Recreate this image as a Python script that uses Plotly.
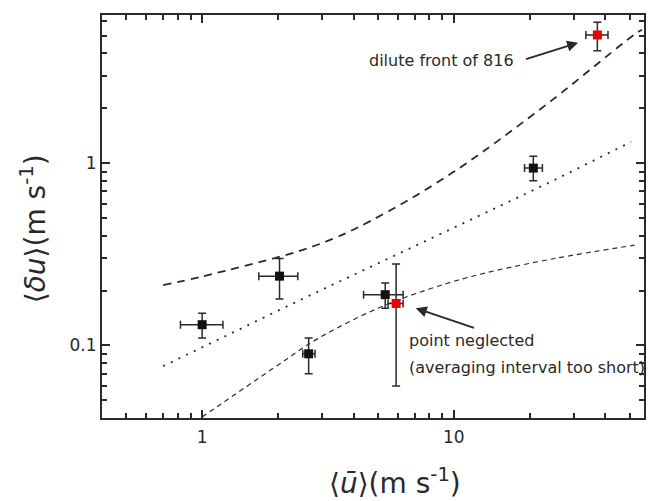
import numpy as np
import plotly.graph_objects as go

# --- measured points (black) ---
blk_x = [1.0, 2.03, 2.65, 5.34, 20.7]
blk_y = [0.13, 0.24, 0.09, 0.19, 0.94]
blk_xm = [0.18, 0.35, 0.14, 0.96, 1.6]
blk_xp = [0.21, 0.37, 0.16, 0.95, 1.8]
blk_ym = [0.02, 0.06, 0.02, 0.03, 0.14]
blk_yp = [0.02, 0.06, 0.02, 0.03, 0.15]

# --- special points (red) ---
red_x = [5.90, 37.2]
red_y = [0.17, 5.05]
red_xm = [0.42, 3.7]
red_xp = [0.39, 3.8]
red_ym = [0.11, 0.91]
red_yp = [0.11, 0.88]

# --- model curves ---
up_x = [0.70, 1.0, 2.4, 3.3, 4.17, 6.74, 9.85, 12.9, 24.5, 52.3, 56.0]
up_y = [0.214, 0.239, 0.328, 0.384, 0.445, 0.638, 0.885, 1.142, 2.21, 5.09, 5.4]

mid_x = [0.70, 2.44, 14.6, 25.2, 50.7]
mid_y = [0.077, 0.177, 0.566, 0.81, 1.31]

low_x = [1.0, 2.0, 2.88, 5.05, 8.0, 12.6, 25.2, 52.3]
low_y = [0.0405, 0.078, 0.109, 0.161, 0.204, 0.245, 0.30, 0.355]

x_major = [1, 10]
y_major = [0.1, 1]
x_minor = [0.5, 0.6, 0.7, 0.8, 0.9, 2, 3, 4, 5, 6, 7, 8, 9, 20, 30, 40, 50]
y_minor = [0.05, 0.06, 0.07, 0.08, 0.09, 0.2, 0.3, 0.4, 0.5, 0.6, 0.7, 0.8, 0.9, 2, 3, 4, 5, 6]

FONT = "DejaVu Sans"
INK = "#2a2a2a"

fig = go.Figure()

fig.add_trace(go.Scatter(x=up_x, y=up_y, mode="lines", line_shape="spline",
                         line=dict(color=INK, width=1.8, dash="8px,6px"),
                         hoverinfo="skip", showlegend=False))
fig.add_trace(go.Scatter(x=mid_x, y=mid_y, mode="lines",
                         line=dict(color=INK, width=1.8, dash="2px,6.5px"),
                         hoverinfo="skip", showlegend=False))
fig.add_trace(go.Scatter(x=low_x, y=low_y, mode="lines", line_shape="spline",
                         line=dict(color=INK, width=1.2, dash="5px,4px"),
                         hoverinfo="skip", showlegend=False))

def pts(x, y, xm, xp, ym, yp, color):
    return go.Scatter(
        x=x, y=y, mode="markers",
        marker=dict(symbol="square", size=9, color=color, line=dict(width=0)),
        error_x=dict(type="data", array=xp, arrayminus=xm, symmetric=False,
                     color=INK, thickness=1.5, width=4),
        error_y=dict(type="data", array=yp, arrayminus=ym, symmetric=False,
                     color=INK, thickness=1.5, width=4),
        showlegend=False)

fig.add_trace(pts(blk_x, blk_y, blk_xm, blk_xp, blk_ym, blk_yp, "#111111"))
fig.add_trace(pts(red_x, red_y, red_xm, red_xp, red_ym, red_yp, "#e60000"))

axis_common = dict(
    type="log", showline=True, linecolor=INK, linewidth=2, mirror="ticks",
    ticks="inside", ticklen=8, tickwidth=1.5, tickcolor=INK,
    showgrid=False, zeroline=False,
    tickfont=dict(family=FONT, size=17, color=INK),
)

fig.update_xaxes(**axis_common, range=[np.log10(0.40), np.log10(57)],
                 tickmode="array", tickvals=x_major, ticktext=["1", "10"],
                 ticklabelstandoff=3,
                 minor=dict(tickmode="array", tickvals=x_minor, ticks="inside",
                            ticklen=5, tickwidth=1.5, tickcolor=INK, showgrid=False))
fig.update_yaxes(**axis_common, range=[np.log10(0.04), np.log10(6.5)],
                 tickmode="array", tickvals=y_major, ticktext=["0.1", "1"],
                 minor=dict(tickmode="array", tickvals=y_minor, ticks="inside",
                            ticklen=5, tickwidth=1.5, tickcolor=INK, showgrid=False))

L = np.log10
ann = [
    # arrows
    dict(x=L(31.2), y=L(4.58), ax=L(19.1), ay=L(3.70), xref="x", yref="y",
         axref="x", ayref="y", text="", showarrow=True, arrowhead=2,
         arrowsize=1.1, arrowwidth=2, arrowcolor=INK),
    dict(x=L(7.06), y=L(0.16), ax=L(12.2), ay=L(0.124), xref="x", yref="y",
         axref="x", ayref="y", text="", showarrow=True, arrowhead=2,
         arrowsize=1.1, arrowwidth=2, arrowcolor=INK),
    # texts
    dict(x=L(4.53), y=L(3.65), xref="x", yref="y", xanchor="left", yanchor="middle",
         text="dilute front of 816", showarrow=False,
         font=dict(family=FONT, size=16, color=INK)),
    dict(x=L(6.52), y=L(0.107), xref="x", yref="y", xanchor="left", yanchor="middle",
         text="point neglected", showarrow=False,
         font=dict(family=FONT, size=16, color=INK)),
    dict(x=L(6.52), y=L(0.076), xref="x", yref="y", xanchor="left", yanchor="middle",
         text="(averaging interval too short)", showarrow=False,
         font=dict(family=FONT, size=16, color=INK)),
    # axis titles
    dict(x=0.540, y=-0.157, xref="paper", yref="paper", xanchor="center", yanchor="middle",
         text="⟨<i>u\u0304</i>⟩(m s<sup>-1</sup>)", showarrow=False,
         font=dict(family=FONT, size=28, color=INK)),
    dict(x=-0.125, y=0.469, xref="paper", yref="paper", xanchor="center", yanchor="middle",
         text="⟨<i>δu</i>⟩(m s<sup>-1</sup>)", showarrow=False, textangle=-90,
         font=dict(family=FONT, size=28, color=INK)),
]
fig.update_layout(
    width=649, height=501,
    margin=dict(l=102, r=3, t=15, b=83),
    paper_bgcolor="white", plot_bgcolor="white",
    annotations=ann,
    font=dict(family=FONT, color=INK),
)

fig.write_html("out.html")
